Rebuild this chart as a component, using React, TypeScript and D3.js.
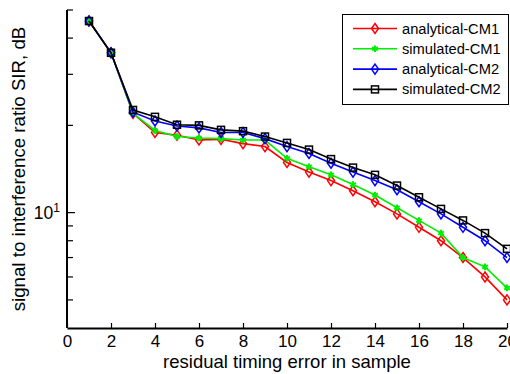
import React, { useEffect, useRef } from 'react';
import * as d3 from 'd3';

// residual timing error (samples)
const timingErrors = [1, 2, 3, 4, 5, 6, 7, 8, 9, 10, 11, 12, 13, 14, 15, 16, 17, 18, 19, 20];

// SIR values
const analyticalCM1 = [45.8, 35.6, 22.0, 18.9, 18.5, 17.8, 17.9, 17.3, 16.9, 14.9, 13.8, 12.9, 11.9, 10.9, 9.9, 8.9, 8.0, 7.0, 6.0, 5.0];
const simulatedCM1 = [45.8, 35.6, 22.0, 19.2, 18.3, 18.1, 18.0, 17.8, 17.8, 15.4, 14.4, 13.5, 12.5, 11.5, 10.4, 9.4, 8.5, 7.0, 6.5, 5.5];
const analyticalCM2 = [45.8, 35.6, 22.2, 20.7, 19.9, 19.6, 18.9, 18.9, 18.0, 16.9, 16.0, 14.8, 13.8, 12.9, 12.0, 10.9, 9.9, 8.9, 8.0, 7.0];
const simulatedCM2 = [45.8, 35.6, 22.6, 21.4, 20.1, 20.0, 19.3, 19.1, 18.3, 17.4, 16.5, 15.3, 14.3, 13.5, 12.4, 11.3, 10.3, 9.4, 8.5, 7.5];

const seriesNames = ['analytical-CM1', 'simulated-CM1', 'analytical-CM2', 'simulated-CM2'];
const seriesColors = ['#ff0000', '#00ee00', '#0000ff', '#000000'];
const seriesMarkers = ['diamond', 'star', 'diamond', 'square'];

const xTicks = [0, 2, 4, 6, 8, 10, 12, 14, 16, 18, 20];
const yTicks = [5, 6, 7, 8, 9, 10, 20, 30, 40, 50];
const yLabelTick = 10;

const FONT = '"Liberation Sans", Arial, Helvetica, sans-serif';

function drawMarker(g, kind, cx, cy, color) {
    if (kind === 'diamond') {
        g.append('path')
            .attr('d', `M${cx},${cy - 5}L${cx + 3.5},${cy}L${cx},${cy + 5}L${cx - 3.5},${cy}Z`)
            .attr('fill', 'none').attr('stroke', color).attr('stroke-width', 1.5);
    } else if (kind === 'square') {
        g.append('rect')
            .attr('x', cx - 3.5).attr('y', cy - 3.5).attr('width', 7).attr('height', 7)
            .attr('fill', 'none').attr('stroke', color).attr('stroke-width', 1.5);
    } else {
        g.append('path')
            .attr('d', d3.symbol(d3.symbolAsterisk, 30)())
            .attr('transform', `translate(${cx},${cy})`)
            .attr('fill', 'none').attr('stroke', color).attr('stroke-width', 2);
    }
}

function SirChart() {
    const ref = useRef(null);

    useEffect(() => {
        const svg = d3.select(ref.current);
        svg.selectAll('*').remove();

        const x = d3.scaleLinear().domain([0, 20]).range([67, 507]);
        const y = d3.scaleLog().domain([4, 50]).range([328, 10]);

        const allSeries = [analyticalCM1, simulatedCM1, analyticalCM2, simulatedCM2];

        // x axis, ticks pointing in
        const xAxis = svg.append('g')
            .attr('transform', 'translate(0,328)')
            .call(d3.axisBottom(x).tickValues(xTicks).tickSizeInner(-5).tickSizeOuter(0).tickPadding(7));
        xAxis.select('.domain').attr('stroke-width', 2);
        xAxis.selectAll('.tick line').attr('stroke-width', 1.2);
        xAxis.selectAll('text').attr('font-size', 17).attr('font-family', FONT).attr('fill', '#000');

        // y axis (log)
        const yAxis = svg.append('g').attr('transform', 'translate(67,0)');
        yAxis.append('line').attr('x1', 0).attr('x2', 0).attr('y1', y(50)).attr('y2', y(4))
            .attr('stroke', '#000').attr('stroke-width', 2);
        yTicks.forEach((t) => {
            yAxis.append('line').attr('x1', 0).attr('x2', t === yLabelTick ? 8 : 6)
                .attr('y1', y(t)).attr('y2', y(t)).attr('stroke', '#000').attr('stroke-width', 1.2);
        });
        const lab = yAxis.append('text')
            .attr('x', -7).attr('y', y(yLabelTick) + 6)
            .attr('text-anchor', 'end').attr('font-size', 17.5).attr('font-family', FONT);
        lab.append('tspan').text('10');
        lab.append('tspan').attr('dy', -7).attr('font-size', 12).text('1');

        // lines + markers
        const line = d3.line().x((d, i) => x(timingErrors[i])).y((d) => y(d));
        allSeries.forEach((vals, s) => {
            const g = svg.append('g');
            g.append('path').attr('d', line(vals)).attr('fill', 'none')
                .attr('stroke', seriesColors[s]).attr('stroke-width', 1.6);
            vals.forEach((v, i) => drawMarker(g, seriesMarkers[s], x(timingErrors[i]), y(v), seriesColors[s]));
        });

        // axis titles
        svg.append('text')
            .attr('x', 287).attr('y', 368).attr('text-anchor', 'middle')
            .attr('font-size', 18.5).attr('font-family', FONT)
            .text('residual timing error in sample');
        svg.append('text')
            .attr('transform', 'translate(25,169) rotate(-90)').attr('text-anchor', 'middle')
            .attr('font-size', 18.7).attr('font-family', FONT)
            .text('signal to interference ratio SIR, dB');

        // legend
        const leg = svg.append('g');
        leg.append('rect').attr('x', 342.5).attr('y', 14.5).attr('width', 166).attr('height', 90)
            .attr('fill', '#fff').attr('stroke', '#000').attr('stroke-width', 1);
        seriesNames.forEach((name, i) => {
            const ly = 28.5 + i * 20.3;
            leg.append('line').attr('x1', 353).attr('x2', 397).attr('y1', ly).attr('y2', ly)
                .attr('stroke', seriesColors[i]).attr('stroke-width', 1.6);
            drawMarker(leg, seriesMarkers[i], 375, ly, seriesColors[i]);
            leg.append('text').attr('x', 402).attr('y', ly + 5)
                .attr('font-size', 14.7).attr('font-family', FONT).text(name);
        });
    }, []);

    return <svg ref={ref} width={510} height={374} style={{ position: 'absolute', left: 0, top: 0, background: '#fff' }}></svg>;
}

export default function App() {
    return <SirChart />;
}
